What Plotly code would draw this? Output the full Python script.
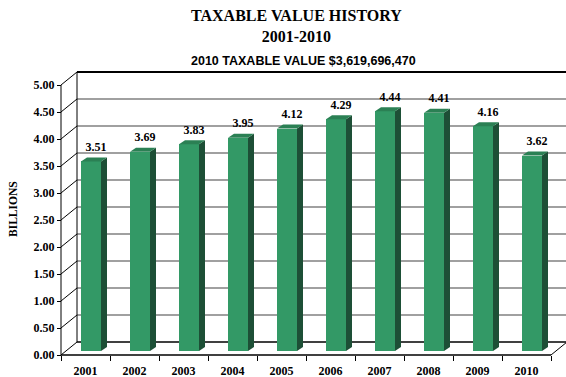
import plotly.graph_objects as go

# ---- data ----
years = ["2001", "2002", "2003", "2004", "2005", "2006", "2007", "2008", "2009", "2010"]
values = [3.51, 3.69, 3.83, 3.95, 4.12, 4.29, 4.44, 4.41, 4.16, 3.62]
y_ticks = [0.0, 0.5, 1.0, 1.5, 2.0, 2.5, 3.0, 3.5, 4.0, 4.5, 5.0]
y_tick_labels = [f"{v:.2f}" for v in y_ticks]

title_main = "TAXABLE VALUE HISTORY<br>2001-2010"
subtitle = "2010 TAXABLE VALUE $3,619,696,470"
y_title = "BILLIONS"

# ---- page / scale layout (pixels) ----
W, H = 566, 377
ML, MR, MT, MB = 40, 0, 60, 12
PX_CAT = 49.0      # pixels per category on the front floor edge
PX_UNIT = 54.0     # pixels per billion on the front axis
ORIGIN_X = 61.0    # pixel x of the front axis
ORIGIN_Y = 355.0   # pixel y of the front floor edge

plot_w = W - ML - MR
plot_h = H - MT - MB
x_range = [-(ORIGIN_X - ML) / PX_CAT, (W - MR - ORIGIN_X) / PX_CAT]
y_range = [-(H - MB - ORIGIN_Y) / PX_UNIT, (ORIGIN_Y - MT) / PX_UNIT]

# 3-D look: wall depth and bar depth, in axis units
DX, DY = 16 / PX_CAT, 13 / PX_UNIT
BAR_DX, BAR_DY = 6 / PX_CAT, 4 / PX_UNIT
BAR_BASE = 4 / PX_UNIT
BAR_OFF, BAR_W = 20 / PX_CAT, 20 / PX_CAT

n = len(years)
y_max = y_ticks[-1]

FRONT = "#339966"
SIDE = "#1d4f36"
TOP = "#2b8054"
GRID = "#808080"

serif = "Liberation Serif"
sans = "Liberation Sans"


def px_to_paper_x(px):
    return (px - ML) / plot_w


def px_to_paper_y(py):
    return (H - MB - py) / plot_h


fig = go.Figure()

# front faces of the bars
centers = [i + BAR_OFF + BAR_W / 2 for i in range(n)]
fig.add_trace(go.Bar(
    x=centers, y=values, base=[BAR_BASE] * n, width=BAR_W,
    marker=dict(color=FRONT, line=dict(width=0)),
    hoverinfo="skip", showlegend=False,
))

# side and top faces
for i, v in enumerate(values):
    xl = i + BAR_OFF
    xr = xl + BAR_W
    top = BAR_BASE + v
    fig.add_trace(go.Scatter(
        x=[xr, xr, xr + BAR_DX, xr + BAR_DX, xr],
        y=[BAR_BASE, top, top + BAR_DY, BAR_BASE + BAR_DY, BAR_BASE],
        mode="lines", fill="toself", fillcolor=SIDE, line=dict(width=0, color=SIDE),
        hoverinfo="skip", showlegend=False,
    ))
    fig.add_trace(go.Scatter(
        x=[xl, xr, xr + BAR_DX, xl + BAR_DX, xl],
        y=[top, top, top + BAR_DY, top + BAR_DY, top],
        mode="lines", fill="toself", fillcolor=TOP, line=dict(width=0, color=TOP),
        hoverinfo="skip", showlegend=False,
    ))

# value labels above the bars
fig.add_trace(go.Scatter(
    x=[c + 0.1 for c in centers],
    y=[BAR_BASE + v + BAR_DY + 9.5 / PX_UNIT for v in values],
    mode="text", text=[f"{v:.2f}" for v in values],
    textposition="middle center",
    textfont=dict(family=serif, size=12, color="black"),
    cliponaxis=False, hoverinfo="skip", showlegend=False,
))

shapes = []
# back wall grid lines
for v in y_ticks:
    edge = v in (0.0, y_max)
    shapes.append(dict(
        type="line", xref="x", yref="y", layer="below",
        x0=DX, x1=n + DX, y0=v + DY, y1=v + DY,
        line=dict(color="black" if edge else GRID, width=2 if v == y_max else 1.3),
    ))
    # left side wall diagonals
    shapes.append(dict(
        type="line", xref="x", yref="y", layer="below",
        x0=0, x1=DX, y0=v, y1=v + DY,
        line=dict(color="black", width=1),
    ))
# back wall left edge
shapes.append(dict(type="line", xref="x", yref="y", layer="below",
                   x0=DX, x1=DX, y0=DY, y1=y_max + DY,
                   line=dict(color="black", width=1)))
# front value axis
shapes.append(dict(type="line", xref="x", yref="y", layer="below",
                   x0=0, x1=0, y0=0, y1=y_max,
                   line=dict(color="black", width=1)))
# floor front edge and right edge
shapes.append(dict(type="line", xref="x", yref="y", layer="below",
                   x0=0, x1=n, y0=0, y1=0,
                   line=dict(color="black", width=1.5)))
shapes.append(dict(type="line", xref="x", yref="y", layer="below",
                   x0=n, x1=n + DX, y0=0, y1=DY,
                   line=dict(color="black", width=1)))

annotations = [
    dict(text=title_main, xref="paper", yref="paper",
         x=px_to_paper_x(296), y=px_to_paper_y(26), xanchor="center", yanchor="middle",
         showarrow=False, font=dict(family=serif, size=16, color="black"),
         ),
    dict(text=subtitle, xref="paper", yref="paper",
         x=px_to_paper_x(303), y=px_to_paper_y(61), xanchor="center", yanchor="middle",
         showarrow=False, font=dict(family=sans, size=12.5, color="black")),
    dict(text=y_title, xref="paper", yref="paper",
         x=px_to_paper_x(13), y=px_to_paper_y(209), xanchor="center", yanchor="middle",
         textangle=-90, showarrow=False, font=dict(family=serif, size=11.5, color="black")),
]

fig.update_layout(
    width=W, height=H,
    margin=dict(l=ML, r=MR, t=MT, b=MB, pad=0),
    paper_bgcolor="white", plot_bgcolor="white",
    shapes=shapes, annotations=annotations,
    xaxis=dict(
        range=x_range, anchor="free", position=px_to_paper_y(ORIGIN_Y),
        tickmode="array", tickvals=[i + 0.5 for i in range(n)], ticktext=years,
        ticks="outside", ticklen=5, tickcolor="rgba(0,0,0,0)",
        minor=dict(tickmode="array", tickvals=list(range(n + 1)), ticks="outside",
                   ticklen=5, tickcolor="black", tickwidth=1),
        showline=False, showgrid=False, zeroline=False,
        tickfont=dict(family=serif, size=12, color="black"),
        fixedrange=True,
    ),
    yaxis=dict(
        range=y_range, anchor="free", position=px_to_paper_x(ORIGIN_X),
        tickmode="array", tickvals=y_ticks, ticktext=y_tick_labels,
        ticks="outside", ticklen=4, tickcolor="black", tickwidth=1,
        showline=False, showgrid=False, zeroline=False,
        tickfont=dict(family=serif, size=12, color="black"),
        fixedrange=True,
    ),
    bargap=0,
)

# bold text throughout, as in the printed report
for a in fig.layout.annotations:
    a.text = f"<b>{a.text}</b>"
fig.update_xaxes(ticktext=[f"<b>{t}</b>" for t in years])
fig.update_yaxes(ticktext=[f"<b>{t}</b>" for t in y_tick_labels])
fig.data[-1].text = [f"<b>{t}</b>" for t in fig.data[-1].text]

fig.write_html("out.html")
